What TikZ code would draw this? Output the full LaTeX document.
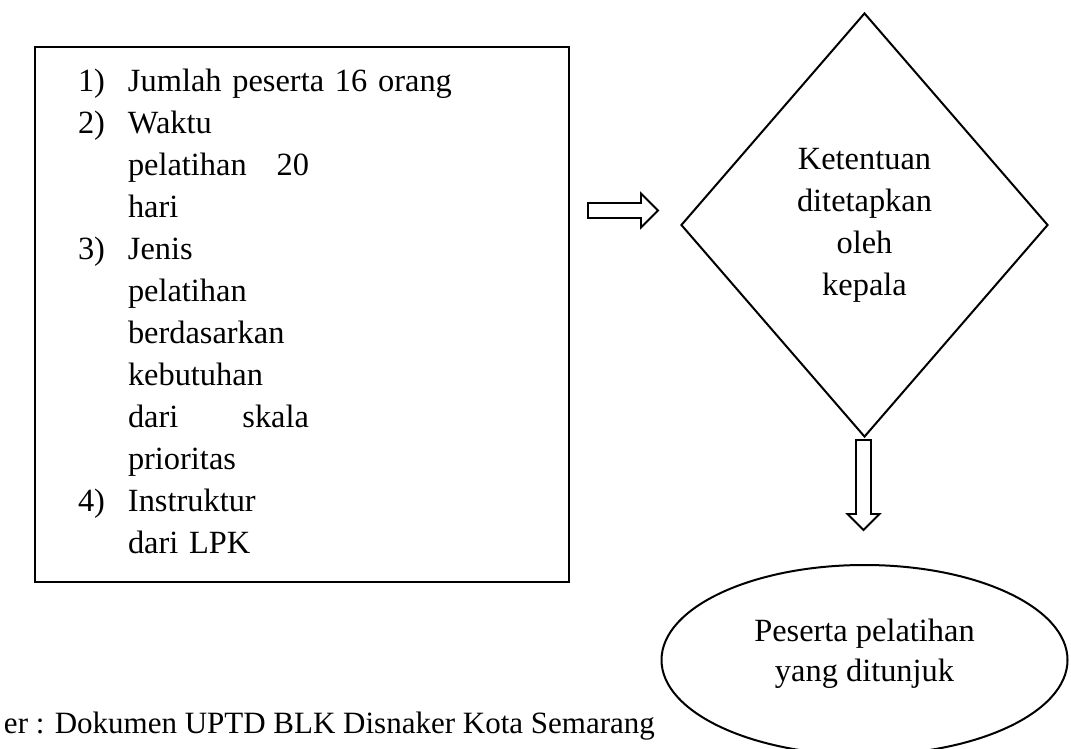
\documentclass[tikz,border=0pt]{standalone}
\usepackage{fontspec}
\setmainfont{Liberation Serif}
\usetikzlibrary{positioning, shapes.geometric}

\begin{document}
\begin{tikzpicture}[x=1pt, y=-1pt, line width=2pt,
    font=\fontsize{32.4}{42}\selectfont,
    listbox/.style={draw, rectangle, minimum width=534pt, minimum height=535pt,
      inner xsep=43pt, text width=448pt, align=left},
    decision/.style={draw, diamond, minimum width=367pt, minimum height=424pt,
      inner sep=0pt, align=center},
    result/.style={draw, ellipse, minimum width=406pt, minimum height=190pt,
      text depth=19pt, align=center},
    hollowarrow/.style={draw, line width=1.8pt, line join=miter}]
    \useasboundingbox (0,0) rectangle (1071,749);

    \node[listbox] (rules) at (302,314.5) {%
      \begin{tabular}{@{}p{50pt}@{}l@{}}
        1) & Jumlah peserta 16 orang\\
        2) & Waktu\\
           & \makebox[181pt][l]{pelatihan\hfill 20}\\
           & hari\\
        3) & Jenis\\
           & pelatihan\\
           & berdasarkan\\
           & kebutuhan\\
           & \makebox[181pt][l]{dari\hfill skala}\\
           & prioritas\\
        4) & Instruktur\\
           & dari LPK
      \end{tabular}};
    \node[decision] (decide) at (864.5,225) {Ketentuan\\ditetapkan\\oleh\\kepala};
    \node[result] (chosen) [below=126pt of decide] {Peserta pelatihan\\[-2pt]yang ditunjuk};

    % hollow block arrows
    \coordinate (rtail) at (588,210.5);
    \coordinate (dtail) at (863.5,440);
    \draw[hollowarrow] (rtail) ++(0,-7.5) -- ++(53,0) -- ++(0,-9.5) -- ++(17,17)
      -- ++(-17,17) -- ++(0,-9.5) -- ++(-53,0) -- cycle;
    \draw[hollowarrow] (dtail) ++(-7.5,0) -- ++(0,74) -- ++(-8.5,0) -- ++(16,16)
      -- ++(16,-16) -- ++(-8.5,0) -- ++(0,-74) -- cycle;

    \node[anchor=base west, inner sep=0pt, font=\fontsize{31}{38}\selectfont] (source) at (3,733)
      {er : Dokumen UPTD BLK Disnaker Kota Semarang};
  \end{tikzpicture}
\end{document}
